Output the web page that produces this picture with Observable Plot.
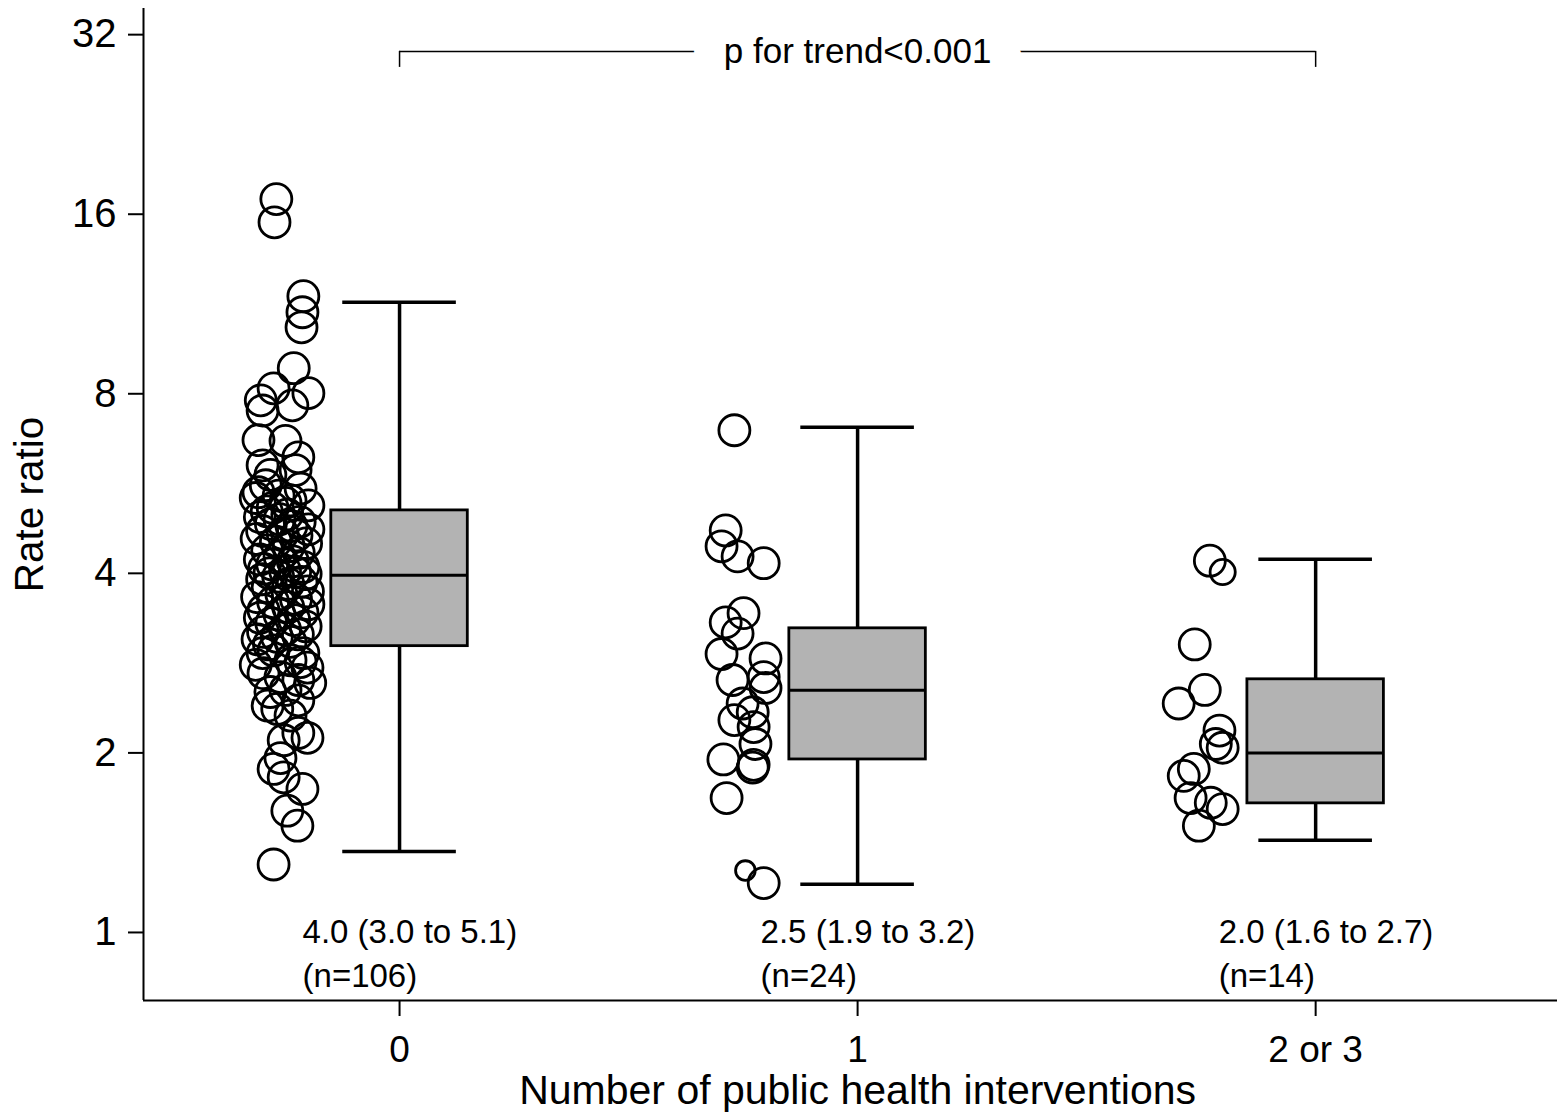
<!DOCTYPE html>
<html>
<head>
<meta charset="utf-8">
<script src="https://cdn.jsdelivr.net/npm/d3@7"></script>
<script src="https://cdn.jsdelivr.net/npm/@observablehq/plot@0.6"></script>
<style>
  body { margin: 0; background: #fff; }
  #chart svg { display: block; }
</style>
</head>
<body>
<div id="chart"></div>
<script>
// ---- categories & labels ----
const xLabels = ["0", "1", "2 or 3"];
const groupPos = [0, 1, 2];
const yTicks = [1, 2, 4, 8, 16, 32];
const xTitle = "Number of public health interventions";
const yTitle = "Rate ratio";
const trendText = "p for trend<0.001";
const estimateLabels = ["4.0 (3.0 to 5.1)", "2.5 (1.9 to 3.2)", "2.0 (1.6 to 2.7)"];
const nLabels = ["(n=106)", "(n=24)", "(n=14)"];

// ---- box summaries ----
const whiskerLow  = [1.367, 1.204, 1.427];
const q1          = [3.02, 1.95, 1.646];
const median      = [3.97, 2.546, 2.0];
const q3          = [5.10, 3.235, 2.657];
const whiskerHigh = [11.39, 7.03, 4.222];

// ---- individual rate ratios (group 0: 106, group 1: 24, group 2: 14) ----
const g0Values = [
  16.96, 15.51, 11.66, 10.96, 10.34, 8.83, 8.17, 8.02, 7.80, 7.65, 7.5, 6.69, 6.67,
  6.26, 6.07, 5.96, 5.85, 5.62, 5.55, 5.47, 5.40, 5.35, 5.30, 5.25, 5.20, 5.15,
  5.08, 5.02, 4.97, 4.93, 4.88, 4.84, 4.80, 4.74, 4.71, 4.66, 4.63, 4.57, 4.52, 4.49,
  4.44, 4.37, 4.33, 4.27, 4.22, 4.19, 4.14, 4.10, 4.07, 4.04, 4.02, 4.00, 3.99,
  3.95, 3.91, 3.87, 3.84, 3.79, 3.73, 3.69, 3.65, 3.62, 3.58, 3.55, 3.51, 3.47,
  3.44, 3.41, 3.37, 3.34, 3.30, 3.26, 3.22, 3.19, 3.16, 3.13, 3.10, 3.07, 3.04,
  2.97, 2.94, 2.94, 2.86, 2.84, 2.81, 2.78, 2.72, 2.68, 2.65, 2.62, 2.55, 2.53,
  2.45, 2.40, 2.37, 2.31, 2.16, 2.12, 2.10, 1.96, 1.88, 1.82, 1.74, 1.60, 1.51, 1.30
];
const g0Jitter = [
  -0.269, -0.273, -0.210, -0.212, -0.214, -0.231, -0.275, -0.199, -0.303, -0.234, -0.299, -0.308, -0.249,
  -0.221, -0.299, -0.227, -0.282, -0.292, -0.216, -0.308, -0.264, -0.314, -0.238, -0.249, -0.199, -0.277,
  -0.290, -0.245, -0.305, -0.262, -0.218, -0.281, -0.236, -0.199, -0.300, -0.255, -0.225, -0.312, -0.270, -0.204,
  -0.242, -0.289, -0.220, -0.262, -0.305, -0.233, -0.278, -0.210, -0.296, -0.250, -0.228, -0.284, -0.205,
  -0.265, -0.300, -0.214, -0.243, -0.288, -0.200, -0.258, -0.311, -0.226, -0.276, -0.199, -0.243, -0.297,
  -0.212, -0.262, -0.305, -0.230, -0.280, -0.205, -0.250, -0.298, -0.222, -0.268, -0.310, -0.238, -0.285,
  -0.275, -0.299, -0.210, -0.238, -0.216, -0.314, -0.201, -0.297, -0.260, -0.221, -0.195, -0.249, -0.282,
  -0.221, -0.288, -0.267, -0.238, -0.221, -0.201, -0.253, -0.260, -0.275, -0.253, -0.212, -0.245, -0.223, -0.275
];
const g1Values = [6.95, 4.72, 4.44, 4.27, 4.16, 3.43, 3.31, 3.17, 2.93, 2.88, 2.65, 2.68,
  2.57, 2.42, 2.34, 2.27, 2.21, 2.07, 1.95, 1.89, 1.91, 1.68, 1.27, 1.21];
const g1Jitter = [-0.269, -0.288, -0.297, -0.262, -0.205, -0.249, -0.288, -0.262, -0.297, -0.201, -0.273, -0.205,
  -0.201, -0.251, -0.229, -0.269, -0.227, -0.223, -0.293, -0.229, -0.227, -0.286, -0.245, -0.205];
const g1Weight = [1, 1, 1, 1, 1, 1, 1, 1, 1, 1, 1, 1, 1, 1, 1, 1, 1, 1, 1, 1, 1, 1, 0.4, 1];
const g2Values = [4.20, 4.02, 3.04, 2.55, 2.42, 2.18, 2.07, 2.04, 1.88, 1.83, 1.68, 1.65, 1.61, 1.51];
const g2Jitter = [-0.231, -0.203, -0.264, -0.242, -0.299, -0.210, -0.218, -0.203, -0.266, -0.288, -0.273, -0.229, -0.203, -0.255];
const g2Weight = [1, 0.66, 1, 1, 1, 1, 1, 1, 1, 1, 1, 1, 1, 1];

// ---- scale extents ----
const xDomain = [-0.559, 2.528];
const yDomain = [0.769, 35.4];
const trendY = 30;     // bracket level
const trendFootY = 28.2;
const boxHalf = 0.149;
const capHalf = 0.124;

// ---- build tables ----
const points = [];
g0Values.forEach((v, i) => points.push({pos: groupPos[0], value: v, jitter: g0Jitter[i], w: 1}));
g1Values.forEach((v, i) => points.push({pos: groupPos[1], value: v, jitter: g1Jitter[i], w: g1Weight[i]}));
g2Values.forEach((v, i) => points.push({pos: groupPos[2], value: v, jitter: g2Jitter[i], w: g2Weight[i]}));

const stats = groupPos.map((p, i) => ({
  pos: p, lo: whiskerLow[i], q1: q1[i], med: median[i], q3: q3[i], hi: whiskerHigh[i],
  est: estimateLabels[i], n: nLabels[i]
}));

const font = "'Liberation Sans', Arial, Helvetica, sans-serif";

const chart = Plot.plot({
  width: 1557,
  height: 1115,
  marginLeft: 143,
  marginRight: 0,
  marginTop: 8,
  marginBottom: 115,
  style: {fontFamily: font, fontSize: "38px", background: "#fff", color: "#000"},
  x: {type: "linear", domain: xDomain},
  y: {type: "log", base: 2, domain: yDomain},
  r: {type: "sqrt", domain: [0, 1], range: [0, 15.5]},
  marks: [
    // axes
    Plot.axisY({ticks: yTicks, tickFormat: d => String(d), tickSize: 15, tickPadding: 12,
      strokeWidth: 2, label: null, fontSize: 40}),
    Plot.axisX({ticks: groupPos, tickFormat: i => xLabels[i], tickSize: 16, tickPadding: 19,
      strokeWidth: 2, label: null, fontSize: 37}),
    Plot.ruleX([xDomain[0]], {strokeWidth: 2}),
    Plot.ruleY([yDomain[0]], {strokeWidth: 2}),
    // axis titles
    Plot.text([yTitle], {frameAnchor: "left", dx: -113, rotate: -90, textAnchor: "middle",
      lineAnchor: "middle", fontSize: 40.5}),
    Plot.text([xTitle], {x: () => groupPos[1], frameAnchor: "bottom", dy: 90, textAnchor: "middle",
      lineAnchor: "middle", fontSize: 41}),
    // points
    Plot.dot(points, {x: d => d.pos + d.jitter, y: "value", r: "w", stroke: "black",
      strokeWidth: 2.8, fill: "none"}),
    // whiskers
    Plot.ruleX(stats, {x: "pos", y1: "q3", y2: "hi", strokeWidth: 3.5}),
    Plot.ruleX(stats, {x: "pos", y1: "q1", y2: "lo", strokeWidth: 3.5}),
    Plot.ruleY(stats, {y: "hi", x1: d => d.pos - capHalf, x2: d => d.pos + capHalf, strokeWidth: 3.5}),
    Plot.ruleY(stats, {y: "lo", x1: d => d.pos - capHalf, x2: d => d.pos + capHalf, strokeWidth: 3.5}),
    // boxes
    Plot.rect(stats, {x1: d => d.pos - boxHalf, x2: d => d.pos + boxHalf, y1: "q1", y2: "q3",
      fill: "#b3b3b3", stroke: "black", strokeWidth: 2.8}),
    Plot.ruleY(stats, {y: "med", x1: d => d.pos - boxHalf, x2: d => d.pos + boxHalf, strokeWidth: 3}),
    // estimates under each group
    Plot.text(stats, {x: "pos", y: () => 1, text: "est", textAnchor: "start", dx: -97, fontSize: 33}),
    Plot.text(stats, {x: "pos", y: () => 1, text: "n", textAnchor: "start", dx: -97, dy: 44, fontSize: 33}),
    // trend bracket
    Plot.ruleY([trendY], {x1: groupPos[0], x2: groupPos[2], strokeWidth: 1.5}),
    Plot.ruleX([groupPos[0], groupPos[2]], {y1: trendFootY, y2: trendY, strokeWidth: 1.5}),
    Plot.text([trendText], {x: () => groupPos[1], y: () => trendY, fontSize: 35,
      stroke: "white", strokeWidth: 64, paintOrder: "stroke", strokeLinejoin: "round", fill: "black"})
  ]
});
document.getElementById("chart").appendChild(chart);
</script>
</body>
</html>
